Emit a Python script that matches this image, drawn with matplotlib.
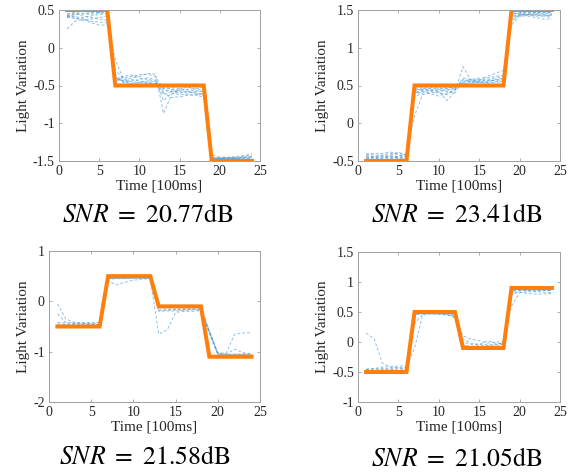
import matplotlib
matplotlib.use("Agg")
import matplotlib.pyplot as plt
import numpy as np

plt.rcParams['font.family'] = ['Liberation Serif', 'DejaVu Serif']
plt.rcParams['mathtext.fontset'] = 'stix'

time = list(range(1, 25))

# Panel 1 (top-left)
ideal_1 = [0.5]*6 + [-0.5]*12 + [-1.5]*6
meas_1 = [
    [0.42,0.44,0.45,0.46,0.47,0.47, -0.30,-0.40,-0.38,-0.36,-0.35,-0.38, -0.55,-0.58,-0.60,-0.58,-0.60,-0.62, -1.45,-1.46,-1.46,-1.45,-1.44,-1.42],
    [0.25,0.35,0.38,0.33,0.30,0.30, -0.15,-0.42,-0.40,-0.38,-0.34,-0.35, -0.87,-0.62,-0.55,-0.52,-0.55,-0.55, -1.42,-1.45,-1.45,-1.44,-1.43,-1.40],
    [0.40,0.42,0.38,0.35,0.34,0.33, -0.35,-0.45,-0.44,-0.42,-0.40,-0.42, -0.70,-0.60,-0.62,-0.62,-0.63,-0.60, -1.47,-1.47,-1.46,-1.46,-1.46,-1.45],
    [0.45,0.47,0.48,0.47,0.48,0.48, -0.40,-0.42,-0.45,-0.46,-0.45,-0.48, -0.52,-0.55,-0.56,-0.55,-0.54,-0.52, -1.48,-1.48,-1.48,-1.47,-1.47,-1.46],
    [0.42,0.38,0.40,0.42,0.44,0.45, -0.45,-0.38,-0.36,-0.40,-0.42,-0.44, -0.60,-0.66,-0.65,-0.63,-0.62,-0.66, -1.46,-1.46,-1.45,-1.46,-1.45,-1.44],
    [0.40,0.45,0.42,0.40,0.38,0.36, -0.38,-0.46,-0.47,-0.46,-0.44,-0.45, -0.58,-0.56,-0.58,-0.60,-0.58,-0.58, -1.47,-1.46,-1.47,-1.47,-1.46,-1.47],
    [0.43,0.40,0.36,0.38,0.40,0.42, -0.42,-0.44,-0.42,-0.44,-0.47,-0.48, -0.62,-0.58,-0.57,-0.58,-0.60,-0.63, -1.45,-1.47,-1.47,-1.46,-1.45,-1.44],
    [0.44,0.46,0.45,0.44,0.46,0.46, -0.40,-0.44,-0.48,-0.48,-0.47,-0.47, -0.54,-0.53,-0.54,-0.56,-0.57,-0.57, -1.48,-1.47,-1.47,-1.47,-1.48,-1.47],
]

# Panel 2 (top-right)
ideal_2 = [-0.5]*6 + [0.5]*12 + [1.5]*6
meas_2 = [
    [-0.42,-0.40,-0.40,-0.38,-0.42,-0.44, 0.40,0.44,0.44,0.42,0.30,0.42, 0.75,0.56,0.56,0.58,0.60,0.62, 1.40,1.44,1.45,1.45,1.44,1.42],
    [-0.45,-0.44,-0.42,-0.40,-0.40,-0.42, 0.35,0.40,0.42,0.40,0.38,0.45, 0.55,0.58,0.57,0.62,0.66,0.70, 1.30,1.42,1.42,1.40,1.38,1.38],
    [-0.48,-0.47,-0.46,-0.46,-0.45,-0.46, 0.42,0.46,0.46,0.45,0.44,0.47, 0.52,0.53,0.54,0.54,0.55,0.56, 1.44,1.46,1.46,1.47,1.47,1.46],
    [-0.44,-0.46,-0.44,-0.45,-0.44,-0.40, 0.10,0.38,0.40,0.42,0.44,0.46, 0.58,0.56,0.55,0.55,0.58,0.60, 1.42,1.43,1.44,1.43,1.42,1.40],
    [-0.47,-0.45,-0.47,-0.44,-0.46,-0.47, 0.44,0.45,0.44,0.46,0.46,0.48, 0.54,0.56,0.58,0.57,0.57,0.58, 1.45,1.45,1.44,1.45,1.46,1.45],
    [-0.40,-0.42,-0.43,-0.42,-0.38,-0.43, 0.38,0.42,0.39,0.36,0.40,0.44, 0.60,0.58,0.60,0.60,0.62,0.64, 1.38,1.42,1.43,1.44,1.43,1.44],
    [-0.46,-0.48,-0.48,-0.47,-0.47,-0.48, 0.45,0.47,0.47,0.47,0.47,0.48, 0.52,0.54,0.54,0.53,0.54,0.55, 1.46,1.46,1.47,1.47,1.46,1.47],
    [-0.43,-0.44,-0.45,-0.43,-0.44,-0.45, 0.40,0.43,0.43,0.44,0.42,0.40, 0.56,0.55,0.56,0.56,0.57,0.58, 1.35,1.44,1.44,1.42,1.42,1.43],
]

# Panel 3 (bottom-left)
ideal_3 = [-0.5]*6 + [0.5]*6 + [-0.1]*6 + [-1.1]*6
meas_3 = [
    [-0.05,-0.35,-0.42,-0.42,-0.42,-0.42, 0.45,0.46,0.46,0.46,0.46,0.46, -0.15,-0.16,-0.16,-0.16,-0.15,-0.15, -0.60,-1.02,-1.03,-0.65,-0.63,-0.62],
    [-0.25,-0.42,-0.43,-0.44,-0.44,-0.44, 0.40,0.33,0.38,0.42,0.44,0.45, -0.65,-0.57,-0.22,-0.20,-0.20,-0.18, -0.62,-1.03,-1.05,-0.95,-1.02,-1.05],
    [-0.42,-0.43,-0.44,-0.45,-0.45,-0.46, 0.46,0.47,0.47,0.47,0.47,0.47, -0.18,-0.18,-0.17,-0.17,-0.16,-0.16, -0.60,-1.05,-1.06,-1.05,-1.06,-1.06],
    [-0.45,-0.46,-0.46,-0.45,-0.46,-0.46, 0.44,0.45,0.45,0.46,0.46,0.46, -0.12,-0.13,-0.13,-0.14,-0.13,-0.12, -0.58,-1.04,-1.05,-1.05,-1.04,-1.04],
    [-0.47,-0.47,-0.47,-0.47,-0.47,-0.47, 0.47,0.46,0.46,0.47,0.47,0.47, -0.20,-0.19,-0.19,-0.18,-0.17,-0.17, -0.65,-1.06,-1.07,-1.07,-1.06,-1.07],
]

# Panel 4 (bottom-right)
ideal_4 = [-0.5]*6 + [0.5]*6 + [-0.1]*6 + [0.9]*6
meas_4 = [
    [0.15,0.05,-0.35,-0.42,-0.43,-0.43, -0.10,0.45,0.47,0.46,0.45,0.42, 0.10,0.05,0.02,-0.02,0.00,0.00, 0.60,0.82,0.84,0.84,0.83,0.82],
    [-0.45,-0.44,-0.42,-0.41,-0.40,-0.40, 0.30,0.47,0.47,0.47,0.46,0.40, 0.05,-0.02,-0.05,0.02,-0.02,-0.03, 0.78,0.85,0.86,0.85,0.86,0.86],
    [-0.47,-0.47,-0.46,-0.46,-0.45,-0.45, 0.45,0.48,0.48,0.48,0.48,0.45, -0.05,-0.07,-0.06,-0.06,-0.05,-0.04, 0.84,0.87,0.88,0.87,0.87,0.87],
    [-0.46,-0.45,-0.44,-0.44,-0.43,-0.44, 0.46,0.47,0.47,0.47,0.46,0.43, 0.00,-0.04,-0.03,-0.05,-0.04,-0.02, 0.82,0.83,0.81,0.80,0.80,0.81],
    [-0.47,-0.47,-0.47,-0.47,-0.47,-0.47, 0.47,0.48,0.48,0.48,0.47,0.46, -0.06,-0.08,-0.08,-0.07,-0.07,-0.06, 0.85,0.86,0.86,0.86,0.86,0.85],
]

snr_labels = ["20.77", "23.41", "21.58", "21.05"]
yticks_list = [
    [-1.5, -1, -0.5, 0, 0.5],
    [-0.5, 0, 0.5, 1, 1.5],
    [-2, -1, 0, 1],
    [-1, -0.5, 0, 0.5, 1, 1.5],
]
xticks = [0, 5, 10, 15, 20, 25]

W, H = 573, 474
fig = plt.figure(figsize=(W/100, H/100), dpi=100)

def rect(l, r, t, b):
    return [l/W, 1 - b/H, (r - l)/W, (b - t)/H]

rects = [rect(59, 260, 10, 161), rect(358, 560, 10, 161),
         rect(49, 260, 251, 402), rect(358, 560, 252, 402)]
title_pos = [(148, 216), (457, 216), (145, 458), (457, 459)]

ideals = [ideal_1, ideal_2, ideal_3, ideal_4]
meass = [meas_1, meas_2, meas_3, meas_4]

txt_color = '#262626'
spine_color = '#a0a0a0'

def fmt(v):
    if float(v).is_integer():
        return str(int(v))
    return ('%g' % v)

for i in range(4):
    ax = fig.add_axes(rects[i])
    for s in meass[i]:
        ax.plot(time, s, linestyle='--', color='#3a8fd0', lw=0.7, alpha=0.55,
                dashes=(3, 2))
    ax.plot(time, ideals[i], color='#FF7F0E', lw=2.9, solid_joinstyle='miter')
    yt = yticks_list[i]
    ax.set_xlim(0, 25)
    ax.set_ylim(yt[0], yt[-1])
    ax.set_xticks(xticks)
    ax.set_yticks(yt)
    ax.set_yticklabels([fmt(v) for v in yt])
    ax.tick_params(direction='in', length=2.5, width=0.6, colors=spine_color,
                   labelcolor=txt_color, labelsize=10, top=True, right=True, pad=3)
    for sp in ax.spines.values():
        sp.set_color(spine_color)
        sp.set_linewidth(0.7)
    ax.set_xlabel('Time [100ms]', fontsize=11, color=txt_color, labelpad=1)
    ax.set_ylabel('Light Variation', fontsize=11, color=txt_color, labelpad=2)
    x, y = title_pos[i]
    fig.text(x/W, 1 - y/H, r'$SNR\ =\ \mathrm{' + snr_labels[i] + r'dB}$', fontsize=18.5,
             ha='center', va='center', color='black')

fig.savefig('out.png', dpi=100)
